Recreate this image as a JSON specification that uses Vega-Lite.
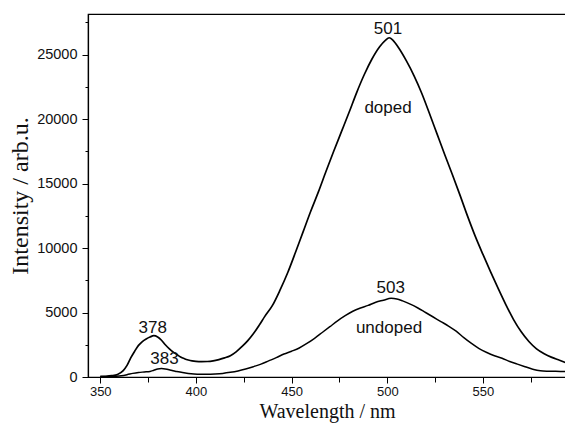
{
  "$schema": "https://vega.github.io/schema/vega-lite/v6.json",
  "width": 478,
  "height": 363,
  "autosize": {"type": "none"},
  "padding": {"left": 88, "top": 14, "right": 0, "bottom": 46},
  "background": "white",
  "config": {
    "view": {"stroke": "black", "strokeWidth": 1.2},
    "axis": {
      "grid": false,
      "domainColor": "black",
      "domainWidth": 1.2,
      "tickColor": "black",
      "tickWidth": 1,
      "labelFont": "Liberation Sans",
      "labelColor": "#111",
      "labelFontSize": 14,
      "titleFont": "Liberation Serif",
      "titleFontWeight": "normal",
      "titleColor": "#111",
      "titleFontSize": 23,
      "labelFlush": false,
      "labelOverlap": false
    }
  },
  "datasets": {
    "doped": [
      {"nm": 350, "I": 50}, {"nm": 353, "I": 60}, {"nm": 356, "I": 100}, {"nm": 359, "I": 200},
      {"nm": 362, "I": 500}, {"nm": 364, "I": 900}, {"nm": 366, "I": 1500}, {"nm": 368, "I": 2000},
      {"nm": 370, "I": 2450}, {"nm": 372, "I": 2750}, {"nm": 374, "I": 2950}, {"nm": 376, "I": 3100},
      {"nm": 378, "I": 3200}, {"nm": 380, "I": 3100}, {"nm": 382, "I": 2850}, {"nm": 384, "I": 2500},
      {"nm": 386, "I": 2200}, {"nm": 388, "I": 1950}, {"nm": 390, "I": 1750}, {"nm": 392, "I": 1550},
      {"nm": 394, "I": 1420}, {"nm": 396, "I": 1320}, {"nm": 398, "I": 1250}, {"nm": 400, "I": 1210},
      {"nm": 403, "I": 1190}, {"nm": 406, "I": 1200}, {"nm": 409, "I": 1250}, {"nm": 412, "I": 1350},
      {"nm": 415, "I": 1480}, {"nm": 418, "I": 1650}, {"nm": 421, "I": 1950}, {"nm": 424, "I": 2350},
      {"nm": 427, "I": 2800}, {"nm": 430, "I": 3350}, {"nm": 433, "I": 4000}, {"nm": 436, "I": 4700},
      {"nm": 440, "I": 5550}, {"nm": 444, "I": 6750}, {"nm": 448, "I": 8100}, {"nm": 452, "I": 9650},
      {"nm": 456, "I": 11250}, {"nm": 460, "I": 12850}, {"nm": 464, "I": 14350}, {"nm": 468, "I": 15950},
      {"nm": 472, "I": 17500}, {"nm": 476, "I": 19000}, {"nm": 480, "I": 20500}, {"nm": 484, "I": 22050},
      {"nm": 488, "I": 23450}, {"nm": 492, "I": 24650}, {"nm": 496, "I": 25600}, {"nm": 499, "I": 26100},
      {"nm": 501, "I": 26300}, {"nm": 503, "I": 26100}, {"nm": 506, "I": 25500}, {"nm": 510, "I": 24500},
      {"nm": 514, "I": 23350}, {"nm": 518, "I": 22000}, {"nm": 522, "I": 20450}, {"nm": 526, "I": 18850},
      {"nm": 530, "I": 17250}, {"nm": 534, "I": 15700}, {"nm": 538, "I": 14100}, {"nm": 542, "I": 12450},
      {"nm": 546, "I": 10900}, {"nm": 550, "I": 9500}, {"nm": 554, "I": 8150}, {"nm": 558, "I": 6850},
      {"nm": 562, "I": 5600}, {"nm": 566, "I": 4450}, {"nm": 570, "I": 3500}, {"nm": 574, "I": 2750},
      {"nm": 578, "I": 2180}, {"nm": 582, "I": 1800}, {"nm": 586, "I": 1520}, {"nm": 590, "I": 1300},
      {"nm": 593.4, "I": 1110}
    ],
    "undoped": [
      {"nm": 350, "I": 20}, {"nm": 354, "I": 30}, {"nm": 358, "I": 60}, {"nm": 361, "I": 100},
      {"nm": 364, "I": 180}, {"nm": 367, "I": 280}, {"nm": 370, "I": 350}, {"nm": 373, "I": 390},
      {"nm": 376, "I": 430}, {"nm": 378, "I": 520}, {"nm": 380, "I": 620}, {"nm": 382, "I": 650},
      {"nm": 384, "I": 620}, {"nm": 386, "I": 560}, {"nm": 388, "I": 480}, {"nm": 390, "I": 420},
      {"nm": 393, "I": 340}, {"nm": 396, "I": 280}, {"nm": 399, "I": 240}, {"nm": 402, "I": 220},
      {"nm": 406, "I": 220}, {"nm": 410, "I": 240}, {"nm": 414, "I": 280}, {"nm": 418, "I": 360},
      {"nm": 422, "I": 470}, {"nm": 426, "I": 620}, {"nm": 430, "I": 800}, {"nm": 434, "I": 1000},
      {"nm": 438, "I": 1250}, {"nm": 442, "I": 1500}, {"nm": 446, "I": 1780}, {"nm": 450, "I": 2000},
      {"nm": 454, "I": 2250}, {"nm": 458, "I": 2600}, {"nm": 462, "I": 3000}, {"nm": 466, "I": 3450},
      {"nm": 470, "I": 3900}, {"nm": 474, "I": 4350}, {"nm": 478, "I": 4750}, {"nm": 482, "I": 5100},
      {"nm": 486, "I": 5350}, {"nm": 490, "I": 5550}, {"nm": 494, "I": 5800}, {"nm": 498, "I": 5950},
      {"nm": 502, "I": 6100}, {"nm": 505, "I": 6050}, {"nm": 508, "I": 5900}, {"nm": 512, "I": 5650},
      {"nm": 516, "I": 5350}, {"nm": 520, "I": 5000}, {"nm": 524, "I": 4650}, {"nm": 528, "I": 4300},
      {"nm": 532, "I": 3950}, {"nm": 536, "I": 3550}, {"nm": 540, "I": 3050}, {"nm": 544, "I": 2600},
      {"nm": 548, "I": 2200}, {"nm": 552, "I": 1900}, {"nm": 556, "I": 1650}, {"nm": 560, "I": 1450},
      {"nm": 564, "I": 1200}, {"nm": 568, "I": 1000}, {"nm": 572, "I": 800}, {"nm": 576, "I": 600},
      {"nm": 580, "I": 480}, {"nm": 584, "I": 450}, {"nm": 588, "I": 440}, {"nm": 593.4, "I": 430}
    ],
    "labels": [
      {"nm": 500.4, "I": 27000, "text": "501"},
      {"nm": 500.4, "I": 20870, "text": "doped"},
      {"nm": 501.8, "I": 6920, "text": "503"},
      {"nm": 500.9, "I": 3770, "text": "undoped"},
      {"nm": 377.4, "I": 3820, "text": "378"},
      {"nm": 383.6, "I": 1370, "text": "383"}
    ]
  },
  "encoding": {
    "x": {
      "field": "nm",
      "type": "quantitative",
      "scale": {"domain": [343.6, 593.4], "nice": false, "zero": false},
      "axis": {
        "title": "Wavelength / nm",
        "titleFontSize": 20,
        "labelFontSize": 13,
        "values": [350, 375, 400, 425, 450, 475, 500, 525, 550, 575],
        "labelExpr": "datum.value % 50 === 0 ? datum.label : ''",
        "tickSize": {"condition": {"test": "datum.value % 50 === 0", "value": 6}, "value": 5},
        "labelPadding": 2,
        "titlePadding": 3
      }
    },
    "y": {
      "field": "I",
      "type": "quantitative",
      "scale": {"domain": [0, 28140], "nice": false},
      "axis": {
        "title": "Intensity / arb.u.",
        "titleFontSize": 24,
        "values": [0, 2500, 5000, 7500, 10000, 12500, 15000, 17500, 20000, 22500, 25000, 27500],
        "labelExpr": "datum.value % 5000 === 0 ? datum.label : ''",
        "format": "d",
        "tickSize": {"condition": {"test": "datum.value % 5000 === 0", "value": 6}, "value": 3},
        "labelFontSize": 14.5,
        "labelPadding": 5,
        "titlePadding": 4
      }
    }
  },
  "layer": [
    {
      "data": {"name": "doped"},
      "mark": {"type": "line", "color": "black", "strokeWidth": 1.7, "clip": true, "interpolate": "monotone"}
    },
    {
      "data": {"name": "undoped"},
      "mark": {"type": "line", "color": "black", "strokeWidth": 1.5, "clip": true, "interpolate": "monotone"}
    },
    {
      "data": {"name": "labels"},
      "mark": {"type": "text", "font": "Liberation Sans", "fontSize": 17, "color": "#111", "baseline": "middle", "align": "center"},
      "encoding": {"text": {"field": "text"}}
    }
  ]
}
